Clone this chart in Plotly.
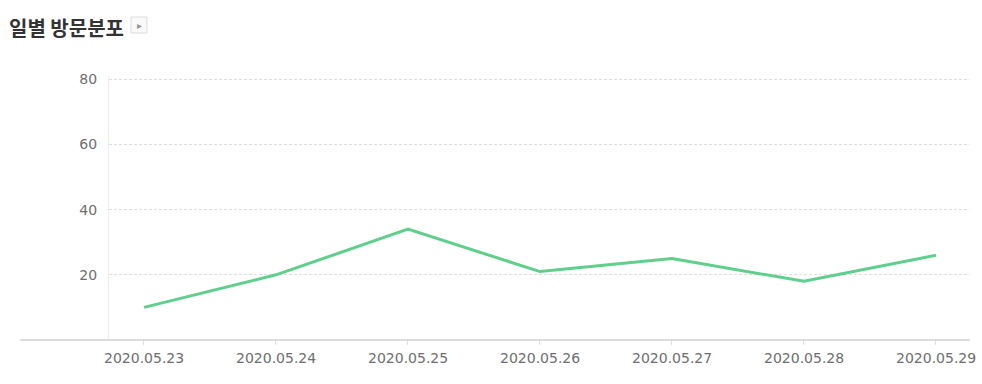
import plotly.graph_objects as go

dates = ["2020.05.23", "2020.05.24", "2020.05.25", "2020.05.26", "2020.05.27", "2020.05.28", "2020.05.29"]
visits = [10, 20, 34, 21, 25, 18, 26]
y_ticks = [20, 40, 60, 80]
title_text = "일별 방문분포"

# the body margin is removed by a post script, so the figure fills the page
W, H = 982, 384
plot_left, plot_right, plot_top, plot_bottom = 109, 970, 76, 340
L = plot_left
R = W - plot_right
T = plot_top
B = H - plot_bottom
PW = plot_right - plot_left
PH = plot_bottom - plot_top


def px_x(p):
    return (p - plot_left) / PW


def px_y(p):
    return (plot_bottom - p) / PH


x_idx = list(range(len(dates)))
LABEL_COLOR = "#6e6e6e"

fig = go.Figure()
fig.add_trace(go.Scatter(
    x=x_idx, y=visits, mode="lines",
    line=dict(color="#5fcf8c", width=3),
    hoverinfo="skip", showlegend=False,
))

fig.update_layout(
    width=W, height=H,
    margin=dict(l=L, r=R, t=T, b=B, pad=0),
    paper_bgcolor="white", plot_bgcolor="white",
    font=dict(family="DejaVu Sans, sans-serif", color=LABEL_COLOR, size=14),
    xaxis=dict(
        range=[-0.265, 6.258],
        tickmode="array", tickvals=x_idx, showticklabels=False,
        showgrid=False, zeroline=False, showline=False,
        ticks="outside", ticklen=4, tickcolor="#dddddd", tickwidth=1,
        fixedrange=True,
    ),
    yaxis=dict(
        range=[0, 81],
        tickmode="array", tickvals=y_ticks, ticktext=[str(v) for v in y_ticks],
        showgrid=True, gridcolor="#dedede", griddash="3px,2px", gridwidth=1,
        zeroline=False, showline=True, linecolor="#ececec", linewidth=1,
        ticks="", ticklabelstandoff=8,
        tickfont=dict(size=14, color=LABEL_COLOR),
        fixedrange=True,
    ),
)

# x tick labels (as annotations so the last one is not dropped at the edge)
for i, d in zip(x_idx, dates):
    fig.add_annotation(text=d, xref="x", yref="paper", x=i, y=px_y(358),
                       xanchor="center", yanchor="middle", showarrow=False,
                       font=dict(size=14, color=LABEL_COLOR))

# baseline extending left beyond the plot area
fig.add_shape(type="line", xref="paper", yref="paper",
              x0=px_x(20), x1=1, y0=0, y1=0,
              line=dict(color="#dddddd", width=2), layer="above")

# title
fig.add_annotation(text="<b>" + title_text + "</b>", xref="paper", yref="paper",
                   x=px_x(7), y=px_y(27),
                   xanchor="left", yanchor="middle", showarrow=False,
                   font=dict(family="Noto Sans CJK KR", size=20, color="#333333"))

# small button
bx0, bx1, by0, by1 = 131, 147, 17, 33
fig.add_shape(type="rect", xref="paper", yref="paper",
              x0=px_x(bx0), x1=px_x(bx1), y0=px_y(by1), y1=px_y(by0),
              line=dict(color="#dddddd", width=1), fillcolor="#f9f9f9")
fig.add_annotation(text="▸", xref="paper", yref="paper",
                   x=px_x((bx0 + bx1) / 2), y=px_y((by0 + by1) / 2),
                   xanchor="center", yanchor="middle", showarrow=False,
                   font=dict(size=10, color="#999999"))

fig.write_html(
    "out.html",
    config={"displayModeBar": False},
    post_script="document.body.style.margin='0';document.body.style.overflow='hidden';",
)
